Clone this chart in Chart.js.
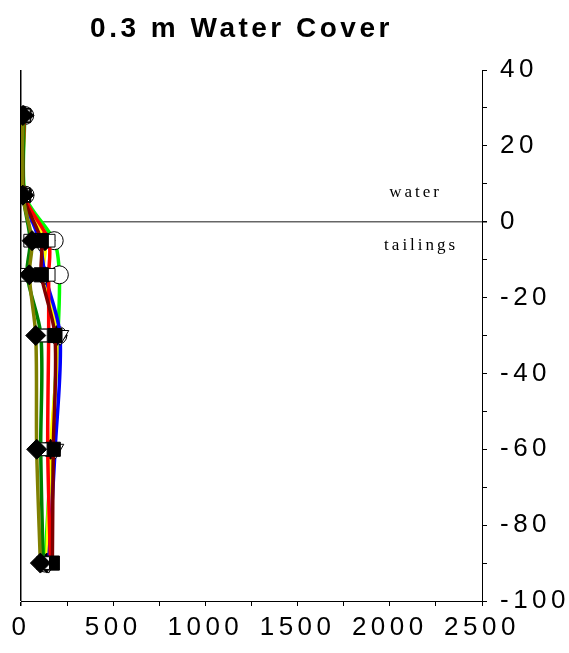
<!DOCTYPE html>
<html>
<head>
<meta charset="utf-8">
<script src="https://cdn.jsdelivr.net/npm/chart.js@4"></script>
<style>
  html, body { margin: 0; padding: 0; background: #fff; }
  #wrap { width: 569px; height: 653px; }
</style>
</head>
<body>
<div id="wrap"><canvas id="c"></canvas></div>
<script>
// depth of each sample (m, + = water column, - = tailings)
const depths = [28, 7, -5, -14, -30, -60, -90];

// concentration profiles
const oliveVals   = [10, 10, 60, 45, 80, 85, 105];
const greenVals   = [15, 12, 50, 33, 108, 107, 120];
const darkredVals = [14, 14, 110, 110, 184, 175, 170];
const redVals     = [18, 18, 150, 150, 150, 145, 160];
const blueVals    = [12, 14, 100, 130, 212, 185, 150];
const yellowVals  = [15, 15, 130, 120, 195, 160, 140];
const limeVals    = [20, 22, 180, 208, 200, 165, 130];

const xTicksMajor = [0, 500, 1000, 1500, 2000, 2500];
const yTicksMajor = [40, 20, 0, -20, -40, -60, -80, -100];

function profile(vals) {
  return vals.map((v, i) => ({ x: v, y: depths[i] }));
}

function series(vals, color, style, filled, size, rot) {
  return {
    data: profile(vals),
    borderColor: color,
    borderWidth: 3.5,
    tension: 0.3,
    pointStyle: style,
    pointRotation: rot || 0,
    pointRadius: size,
    pointBackgroundColor: filled ? "#000" : "#fff",
    pointBorderColor: "#000",
    pointBorderWidth: 1,
  };
}

// title + water/tailings labels
const extras = {
  id: "extras",
  beforeDraw(chart) {
    chart.ctx.letterSpacing = "4.5px";
  },
  afterDraw(chart) {
    const { ctx, chartArea, scales } = chart;
    ctx.save();
    ctx.fillStyle = "#000";
    ctx.textAlign = "center";
    ctx.textBaseline = "middle";
    ctx.letterSpacing = "3.5px";
    ctx.font = "bold 28px 'Liberation Sans', Arial, sans-serif";
    const cx = (chartArea.left + chartArea.right) / 2 - 10;
    ctx.fillText("0.3 m Water Cover", cx, 29);

    ctx.letterSpacing = "3px";
    ctx.font = "17px 'Liberation Serif', 'Times New Roman', serif";
    ctx.fillText("water", scales.x.getPixelForValue(2140), scales.y.getPixelForValue(7.8));
    ctx.fillText("tailings", scales.x.getPixelForValue(2170), scales.y.getPixelForValue(-6.3));
    ctx.restore();
  },
};

new Chart(document.getElementById("c"), {
  type: "line",
  data: {
    datasets: [
      series(oliveVals, "#808000", "rectRot", true, 10),
      series(greenVals, "#008000", "rect", false, 9),
      series(darkredVals, "#800000", "rect", true, 10),
      series(redVals, "#ff0000", "rect", false, 9),
      series(blueVals, "#0000ff", "triangle", false, 10, 180),
      series(yellowVals, "#ffff00", "rectRot", true, 10),
      series(limeVals, "#00ff00", "circle", false, 9),
    ],
  },
  options: {
    animation: false,
    responsive: true,
    maintainAspectRatio: false,
    layout: { padding: { top: 70, left: 21, right: 0, bottom: 0 } },
    plugins: { legend: { display: false }, tooltip: { enabled: false } },
    scales: {
      x: {
        type: "linear",
        min: 0,
        max: 2500,
        afterFit: (s) => { s.height = 52; },
        border: { display: true, color: "#000", width: 1 },
        grid: {
          drawOnChartArea: true,
          color: (c) => (c.tick && c.tick.value === 0 ? "#000" : "rgba(0,0,0,0)"),
          lineWidth: (c) => (c.tick && c.tick.value === 0 ? 1.5 : 1),
          tickColor: "#000",
          tickLength: 5,
        },
        ticks: {
          stepSize: 250,
          autoSkip: false,
          maxRotation: 0,
          padding: 6,
          color: "#000",
          font: { family: "'Liberation Sans', Arial, sans-serif", size: 26 },
          callback: (v) => (xTicksMajor.includes(v) ? String(v) : ""),
        },
      },
      y: {
        type: "linear",
        position: "right",
        min: -100,
        max: 40,
        afterFit: (s) => { s.width = 87; },
        border: { display: true, color: "#000", width: 1 },
        grid: {
          drawOnChartArea: true,
          color: (c) => (c.tick && c.tick.value === 0 ? "#666" : "rgba(0,0,0,0)"),
          lineWidth: (c) => (c.tick && c.tick.value === 0 ? 1.5 : 1),
          tickColor: "#000",
          tickLength: 5,
        },
        ticks: {
          stepSize: 10,
          autoSkip: false,
          padding: 13,
          color: "#000",
          font: { family: "'Liberation Sans', Arial, sans-serif", size: 26 },
          callback: (v) => (yTicksMajor.includes(v) ? String(v) : ""),
        },
      },
    },
  },
  plugins: [extras],
});
</script>
</body>
</html>
